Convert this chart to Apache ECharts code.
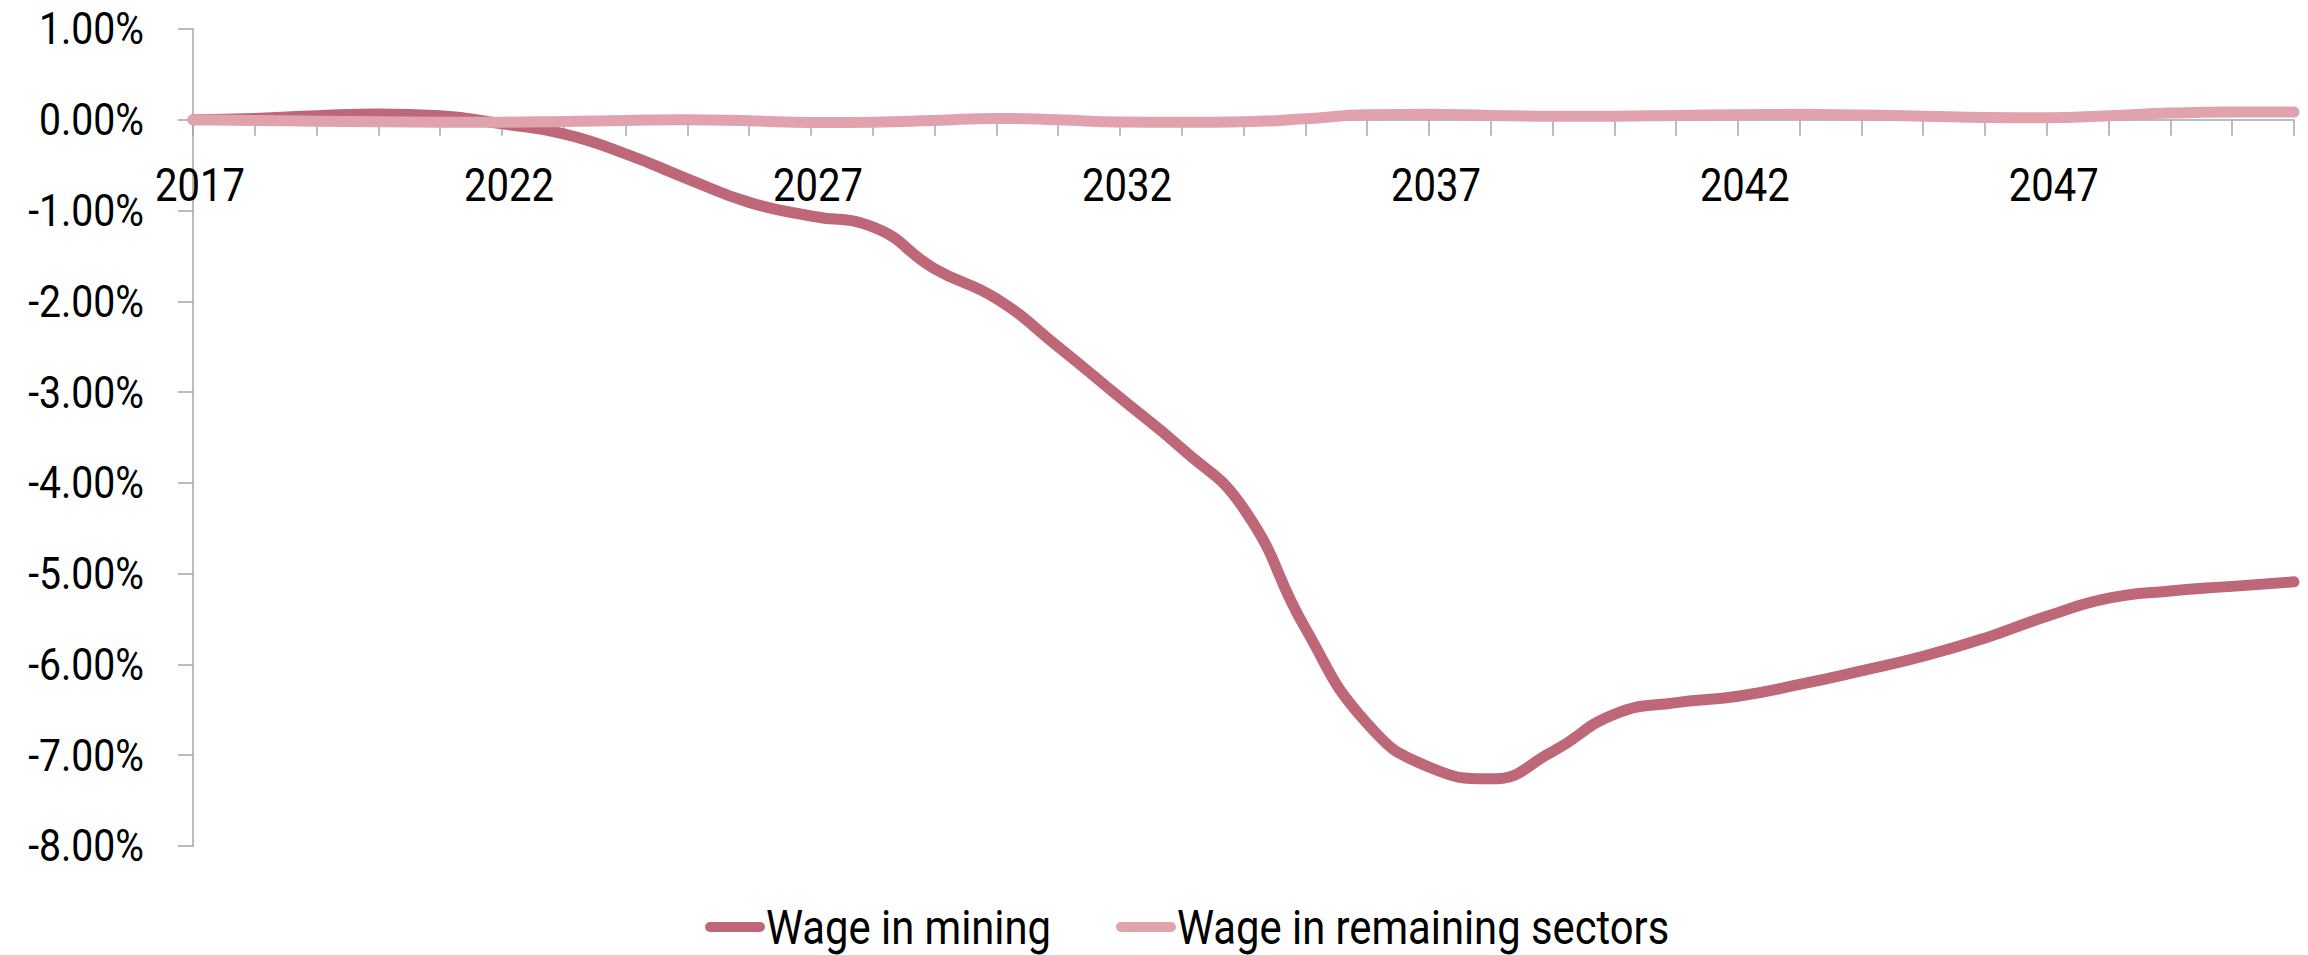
<!DOCTYPE html>
<html>
<head>
<meta charset="utf-8">
<title>Wages</title>
<script src="https://cdn.jsdelivr.net/npm/echarts@6/dist/echarts.min.js"></script>
<style>
  html, body { margin: 0; padding: 0; background: #ffffff; }
  #chart { width: 2308px; height: 955px; }
</style>
</head>
<body>
<div id="chart"></div>
<script>
// Years on the horizontal axis
const years = ['2017','2018','2019','2020','2021','2022','2023','2024','2025','2026',
               '2027','2028','2029','2030','2031','2032','2033','2034','2035','2036',
               '2037','2038','2039','2040','2041','2042','2043','2044','2045','2046',
               '2047','2048','2049','2050','2051'];

// Deviation of wages, in percent
const wageMining = [0, 0.015, 0.045, 0.065, 0.044, -0.045, -0.155, -0.375, -0.65, -0.91,
                    -1.06, -1.18, -1.64, -1.97, -2.5, -3.06, -3.62, -4.28, -5.6, -6.65,
                    -7.13, -7.26, -6.96, -6.55, -6.42, -6.35, -6.22, -6.07, -5.91, -5.71,
                    -5.47, -5.27, -5.19, -5.14, -5.09];

const wageRemaining = [0, -0.007, -0.015, -0.022, -0.026, -0.026, -0.018, -0.007, 0, -0.011,
                       -0.03, -0.026, -0.007, 0.015, 0, -0.025, -0.028, -0.022, 0.011, 0.055,
                       0.06, 0.048, 0.04, 0.04, 0.048, 0.055, 0.06, 0.052, 0.04, 0.026,
                       0.022, 0.044, 0.074, 0.085, 0.085];

const seriesNames = ['Wage in mining', 'Wage in remaining sectors'];
const seriesColors = ['#BE6779', '#E0A3AD'];

// Y axis range and step, in percent
const yMin = -8;
const yMax = 1;
const yStep = 1;

const FONT = "Roboto, 'Liberation Sans', sans-serif";
const AXIS_GRAY = '#A6A6A6';
// horizontal squeeze applied to every text, giving a condensed face
const TEXT_SQUEEZE = 0.87;

const GRID = { left: 193, right: 14, top: 29, bottom: 109 };
const gridHeight = 955 - GRID.top - GRID.bottom;
// distance from the bottom of the plot up to the zero line
const zeroLift = gridHeight * (0 - yMin) / (yMax - yMin);

const chart = echarts.init(document.getElementById('chart'), null, { renderer: 'svg' });

const capsule = 'path://M5,0 L55,0 A5,5 0 0 1 55,10 L5,10 A5,5 0 0 1 5,0 Z';

function legendFor(i, left) {
  return {
    left: left,
    top: 898,
    itemWidth: 60,
    itemHeight: 11,
    icon: capsule,
    textStyle: {
      fontFamily: FONT, fontSize: 48, color: '#000000', lineHeight: 48,
      padding: [0, 0, 0, -4]
    },
    data: [{ name: seriesNames[i], itemStyle: { color: seriesColors[i] } }]
  };
}

chart.setOption({
  backgroundColor: '#ffffff',
  animation: false,
  textStyle: { fontFamily: FONT },
  grid: Object.assign({ containLabel: false }, GRID),
  legend: [legendFor(0, 700), legendFor(1, 1111)],
  xAxis: {
    type: 'category',
    data: years,
    boundaryGap: false,
    offset: -zeroLift,
    axisLine: { onZero: false, lineStyle: { color: AXIS_GRAY, width: 1.5 } },
    axisTick: { show: true, interval: 0, length: 16, lineStyle: { color: AXIS_GRAY, width: 1.5 } },
    axisLabel: {
      interval: 4,
      margin: 43,
      padding: [0, 0, 0, 14],
      fontFamily: FONT,
      fontSize: 46,
      color: '#000000'
    },
    splitLine: { show: false }
  },
  yAxis: {
    type: 'value',
    min: yMin,
    max: yMax,
    interval: yStep,
    axisLine: { show: true, lineStyle: { color: AXIS_GRAY, width: 1.5 } },
    axisTick: { show: true, length: 15, lineStyle: { color: AXIS_GRAY, width: 1.5 } },
    axisLabel: {
      margin: 49,
      fontFamily: FONT,
      fontSize: 45,
      color: '#000000',
      formatter: v => v.toFixed(2) + '%'
    },
    splitLine: { show: false }
  },
  series: [
    {
      name: seriesNames[0],
      type: 'line',
      data: wageMining,
      smooth: 0.5,
      showSymbol: false,
      symbol: 'none',
      lineStyle: { color: seriesColors[0], width: 11, cap: 'round', join: 'round' },
      itemStyle: { color: seriesColors[0] }
    },
    {
      name: seriesNames[1],
      type: 'line',
      data: wageRemaining,
      smooth: 0.5,
      showSymbol: false,
      symbol: 'none',
      lineStyle: { color: seriesColors[1], width: 11, cap: 'round', join: 'round' },
      itemStyle: { color: seriesColors[1] }
    }
  ]
});

// Narrow every text around its own anchor point (keeps right/centre/left alignment)
function squeezeTexts() {
  const texts = document.querySelectorAll('#chart svg text');
  texts.forEach(t => {
    if (t.getAttribute('data-squeezed')) return;
    const x = parseFloat(t.getAttribute('x') || '0');
    const y = parseFloat(t.getAttribute('y') || '0');
    const prev = t.getAttribute('transform') || '';
    const extra = 'translate(' + x + ' ' + y + ') scale(' + TEXT_SQUEEZE + ' 1) translate(' + (-x) + ' ' + (-y) + ')';
    t.setAttribute('transform', (prev + ' ' + extra).trim());
    t.setAttribute('data-squeezed', '1');
  });
}
chart.on('finished', squeezeTexts);
squeezeTexts();
</script>
</body>
</html>
